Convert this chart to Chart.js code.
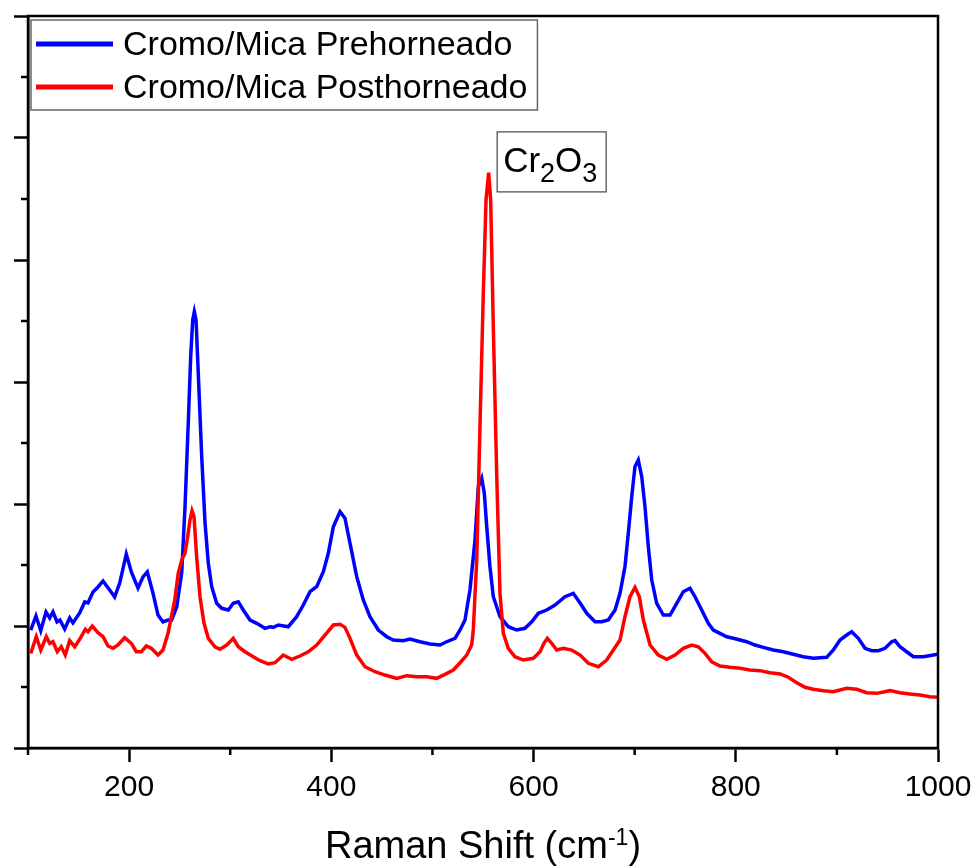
<!DOCTYPE html>
<html>
<head>
<meta charset="utf-8">
<script src="https://cdn.jsdelivr.net/npm/chart.js@4.4.1/dist/chart.umd.min.js"></script>
<style>
  html, body { margin: 0; padding: 0; background: #fff; }
  #wrap { width: 976px; height: 868px; }
</style>
</head>
<body>
<div id="wrap"><canvas id="raman" width="976" height="868"></canvas></div>
<script>
// Raman shift (cm-1) / intensity (a.u.)
const shiftPre = [102.7,107.9,112.6,117.8,121.5,124.7,128.7,131.6,136.3,141.2,
  144.5,151.1,156.1,159.3,164.3,169.2,174.2,180.8,185.7,190.7,
  197.2,202.2,208.8,213.7,218.0,223.6,228.6,233.5,238.5,242.1,
  247.1,252.0,255.3,258.5,260.9,262.9,264.5,266.2,268.4,271.8,
  275.1,278.3,281.7,286.6,291.6,298.1,303.0,308.0,312.9,319.6,
  326.2,334.4,339.3,342.6,347.6,357.4,365.7,372.3,378.9,385.5,
  392.1,397.0,402.0,408.6,413.5,418.5,425.1,431.6,438.2,446.5,
  454.8,461.3,471.2,477.8,487.7,497.6,507.5,514.1,522.3,527.3,
  532.2,537.1,542.1,545.4,548.7,551.3,553.7,556.9,560.2,566.8,
  575.0,583.3,591.5,598.2,604.7,613.0,621.2,631.1,639.3,646.0,
  652.6,660.8,667.4,673.9,680.6,685.5,690.4,693.7,697.1,700.3,
  703.6,707.0,710.2,713.5,716.9,721.8,728.3,735.0,741.6,748.1,
  754.7,759.7,766.3,772.8,777.8,784.4,791.0,797.6,804.2,810.8,
  819.0,827.2,837.1,847.0,856.9,866.8,876.7,889.9,896.5,903.1,
  909.7,914.6,921.2,927.8,934.4,941.0,947.6,954.2,957.5,962.4,
  969.0,975.6,985.5,995.4,1000];
const intensityPre = [967,1082,961,1115,1066,1115,1033,1049,975,1066,
  1025,1107,1197,1189,1279,1320,1369,1295,1238,1352,
  1590,1443,1311,1402,1443,1270,1090,1033,1049,1049,
  1158,1434,1978,2664,3207,3508,3576,3508,3074,2388,
  1844,1516,1322,1186,1145,1131,1186,1199,1131,1049,
  1022,981,994,989,1008,994,1076,1172,1281,1322,
  1445,1596,1814,1937,1883,1678,1404,1213,1076,967,
  912,885,880,893,871,852,844,871,899,967,
  1049,1295,1705,2142,2211,2088,1814,1486,1240,1076,
  994,967,981,1035,1104,1131,1172,1240,1268,1189,
  1104,1035,1035,1049,1131,1268,1486,1760,2060,2306,
  2361,2224,1978,1650,1377,1186,1090,1090,1186,1281,
  1309,1240,1131,1022,967,940,912,899,885,871,
  844,825,803,789,768,748,735,743,803,885,
  926,953,899,817,798,798,817,871,880,830,
  789,748,748,762,768];

const shiftPost = [102.7,108.2,112.6,118.1,121.5,124.7,129.0,132.9,136.9,141.2,
  146.2,151.1,156.7,159.3,163.6,169.2,174.2,179.1,184.1,189.0,
  195.6,202.2,207.1,212.1,217.0,221.9,228.6,233.5,238.5,245.1,
  248.6,252.0,255.3,257.9,260.2,262.2,264.2,266.8,270.1,274.1,
  278.3,284.9,289.9,296.5,301.5,303.0,308.0,314.6,322.8,329.4,
  337.7,344.3,352.5,360.8,369.0,377.2,385.5,393.7,402.0,408.6,
  413.5,418.5,425.1,433.3,443.2,453.1,464.7,474.5,484.4,494.3,
  504.2,512.4,520.6,527.3,533.9,538.8,540.4,543.8,547.0,550.3,
  553.0,555.6,557.6,560.2,563.6,566.8,570.1,575.0,581.6,589.9,
  599.8,606.4,610.3,613.6,618.0,622.9,629.5,637.7,646.0,654.2,
  664.0,672.3,678.9,685.5,690.4,695.4,700.3,704.6,708.6,715.2,
  723.4,731.7,739.9,748.1,756.4,762.9,769.6,776.2,784.4,794.3,
  804.2,814.1,824.0,833.9,843.8,852.0,860.3,868.5,876.7,886.6,
  896.5,909.7,919.6,929.5,939.4,952.5,962.4,972.3,982.2,992.1,1000];
const intensityPost = [776,912,803,912,858,871,789,830,762,880,
  830,891,973,953,1000,945,912,836,817,844,
  904,858,789,789,836,817,762,803,940,1213,
  1432,1541,1596,1732,1869,1945,1896,1568,1240,1022,
  899,830,809,844,885,899,830,789,748,716,
  689,699,762,727,754,789,844,926,1008,1014,
  989,899,762,666,625,598,571,593,584,584,
  571,604,639,699,762,844,967,1541,2634,3727,
  4492,4716,4492,3454,2224,1268,940,817,748,721,
  735,789,858,899,858,803,817,803,762,694,
  666,721,803,885,1076,1240,1317,1240,1049,844,
  762,727,762,817,844,830,776,707,672,661,
  653,639,634,617,607,580,535,498,481,470,
  461,489,481,453,448,470,453,443,434,420,416];

const seriesNames = ['Cromo/Mica Prehorneado', 'Cromo/Mica Posthorneado'];
const seriesColors = ['#0000ff', '#ff0000'];
const xMajorTicks = [200, 400, 600, 800, 1000];
const xMinorTicks = [100, 300, 500, 700, 900];
const yMajorTicks = [0, 1000, 2000, 3000, 4000, 5000, 6000];
const yMinorTicks = [500, 1500, 2500, 3500, 4500, 5500];

// peak label, anchored at its top-left corner in data units
const peakNote = { x: 564, y: 5050 };
const peakParts = [['Cr', false], ['2', true], ['O', false], ['3', true]];

const FONT = '"Liberation Sans", Arial, sans-serif';

function toPoints(xs, ys) {
  return xs.map((x, i) => ({ x: x, y: ys[i] }));
}

const decorations = {
  id: 'decorations',
  afterDraw(chart) {
    const ctx = chart.ctx;
    const area = chart.chartArea;
    const xs = chart.scales.x;
    const ys = chart.scales.y;
    ctx.save();

    // frame
    ctx.strokeStyle = '#000';
    ctx.lineWidth = 2.5;
    ctx.strokeRect(area.left, area.top, area.right - area.left, area.bottom - area.top);

    // minor ticks
    ctx.beginPath();
    xMinorTicks.forEach(v => {
      const px = xs.getPixelForValue(v);
      ctx.moveTo(px, area.bottom);
      ctx.lineTo(px, area.bottom + 7);
    });
    yMinorTicks.forEach(v => {
      const py = ys.getPixelForValue(v);
      ctx.moveTo(area.left, py);
      ctx.lineTo(area.left - 7, py);
    });
    ctx.stroke();

    // legend
    ctx.font = '34px ' + FONT;
    const textWidths = chart.data.datasets.map(d => ctx.measureText(d.label).width);
    const lx = area.left + 3, ly = area.top + 4;
    const lw = 92 + Math.max(...textWidths) + 10;
    ctx.fillStyle = '#fff';
    ctx.fillRect(lx, ly, lw, 90);
    ctx.strokeStyle = '#666';
    ctx.lineWidth = 1.5;
    ctx.strokeRect(lx, ly, lw, 90);
    chart.data.datasets.forEach((d, i) => {
      const base = ly + 35 + i * 43;
      ctx.strokeStyle = d.borderColor;
      ctx.lineWidth = 5;
      ctx.beginPath();
      ctx.moveTo(lx + 5, base - 11);
      ctx.lineTo(lx + 82, base - 11);
      ctx.stroke();
      ctx.fillStyle = '#000';
      ctx.textBaseline = 'alphabetic';
      ctx.textAlign = 'left';
      ctx.fillText(d.label, lx + 92, base);
    });

    // Cr2O3 label
    const bx = xs.getPixelForValue(peakNote.x);
    const by = ys.getPixelForValue(peakNote.y);
    ctx.strokeStyle = '#444';
    ctx.lineWidth = 1.2;
    ctx.strokeRect(bx, by, 109, 60);
    let tx = bx + 6;
    ctx.fillStyle = '#000';
    peakParts.forEach(([t, sub]) => {
      ctx.font = (sub ? '27px ' : '35px ') + FONT;
      ctx.fillText(t, tx, by + 40 + (sub ? 10 : 0));
      tx += ctx.measureText(t).width;
    });

    // axis title with superscript
    const parts = [['Raman Shift (cm', 38, 0], ['-1', 23, -13], [')', 38, 0]];
    let total = 0;
    parts.forEach(([t, s]) => { ctx.font = s + 'px ' + FONT; total += ctx.measureText(t).width; });
    let cx = (area.left + area.right) / 2 - total / 2;
    const baseY = chart.height - 10;
    parts.forEach(([t, s, dy]) => {
      ctx.font = s + 'px ' + FONT;
      ctx.fillText(t, cx, baseY + dy);
      cx += ctx.measureText(t).width;
    });

    ctx.restore();
  }
};

const ctx = document.getElementById('raman').getContext('2d');
const chart = new Chart(ctx, {
  type: 'line',
  data: {
    datasets: [
      {
        label: seriesNames[0],
        data: toPoints(shiftPre, intensityPre),
        borderColor: seriesColors[0],
        borderWidth: 3.5,
        pointRadius: 0,
        tension: 0,
        order: 1
      },
      {
        label: seriesNames[1],
        data: toPoints(shiftPost, intensityPost),
        borderColor: seriesColors[1],
        borderWidth: 3.5,
        pointRadius: 0,
        tension: 0,
        order: 0
      }
    ]
  },
  options: {
    responsive: false,
    animation: false,
    layout: { padding: { left: 14, top: 16, right: 38, bottom: 54 } },
    plugins: {
      legend: { display: false },
      tooltip: { enabled: false }
    },
    scales: {
      x: {
        type: 'linear',
        min: 100,
        max: 1000,
        afterBuildTicks: s => { s.ticks = xMajorTicks.map(v => ({ value: v })); },
        afterFit: s => { s.paddingRight = 0; },
        ticks: {
          autoSkip: false,
          maxRotation: 0,
          color: '#000',
          padding: 8,
          font: { family: FONT, size: 30 },
          callback: v => String(v)
        },
        grid: { drawOnChartArea: false, tickLength: 14, tickWidth: 2.5, tickColor: '#000' },
        border: { color: '#000', width: 2.5 }
      },
      y: {
        type: 'linear',
        min: 0,
        max: 6000,
        afterBuildTicks: s => { s.ticks = yMajorTicks.map(v => ({ value: v })); },
        ticks: { display: false },
        grid: { drawOnChartArea: false, tickLength: 14, tickWidth: 2.5, tickColor: '#000' },
        border: { color: '#000', width: 2.5 }
      }
    }
  },
  plugins: [decorations]
});
</script>
</body>
</html>
